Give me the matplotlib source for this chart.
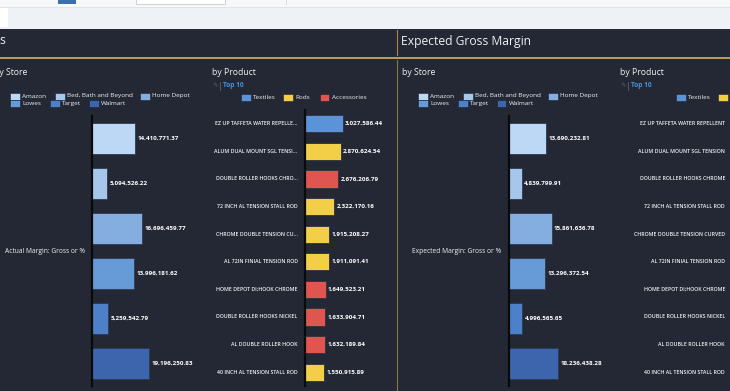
import matplotlib
matplotlib.use("Agg")
import matplotlib.pyplot as plt
from matplotlib.patches import Rectangle
from matplotlib.lines import Line2D

# ---------------- data ----------------
stores = ["Amazon", "Bed, Bath and Beyond", "Home Depot", "Lowes", "Target", "Walmart"]
store_colors = ["#bcd8f5", "#a6c6ec", "#84aee0", "#679bd8", "#4c80c8", "#3c65ae"]
actual_store = [14410771.37, 5094526.22, 16696459.77, 13996181.62, 5259542.79, 19196250.83]
expected_store = [13690232.81, 4839799.91, 15861636.78, 13296372.54, 4996565.65, 18236438.28]

product_labels_left = ["EZ UP TAFFETA WATER REPELLE...", "ALUM DUAL MOUNT SGL TENSI...",
                       "DOUBLE ROLLER HOOKS CHRO...", "72 INCH AL TENSION STALL ROD",
                       "CHROME DOUBLE TENSION CU...", "AL 72IN FINIAL TENSION ROD",
                       "HOME DEPOT DI;HOOK CHROME", "DOUBLE ROLLER HOOKS NICKEL",
                       "AL DOUBLE ROLLER HOOK", "40 INCH AL TENSION STALL ROD"]
product_labels_right = ["EZ UP TAFFETA WATER REPELLENT", "ALUM DUAL MOUNT SGL TENSION",
                        "DOUBLE ROLLER HOOKS CHROME", "72 INCH AL TENSION STALL ROD",
                        "CHROME DOUBLE TENSION CURVED", "AL 72IN FINIAL TENSION ROD",
                        "HOME DEPOT DI;HOOK CHROME", "DOUBLE ROLLER HOOKS NICKEL",
                        "AL DOUBLE ROLLER HOOK", "40 INCH AL TENSION STALL ROD"]
product_cats = ["Textiles", "Rods", "Accessories", "Rods", "Rods", "Rods",
                "Accessories", "Accessories", "Accessories", "Rods"]
actual_product = [3027586.44, 2870624.54, 2676206.79, 2322170.16, 1915208.27,
                  1911091.41, 1649523.21, 1633904.71, 1632189.84, 1550915.89]
categories = ["Textiles", "Rods", "Accessories"]
cat_colors = {"Textiles": "#5b93d8", "Rods": "#f2cf47", "Accessories": "#e05550"}

# ---------------- layout helpers ----------------
W, H = 730, 391
fig = plt.figure(figsize=(7.3, 3.91), dpi=100)
fig.patch.set_facecolor("#eef1f6")
plt.rcParams['font.family'] = ['Open Sans', 'DejaVu Sans']

def fx(x): return x / W
def fy(y): return 1 - y / H

def rect(x0, y0, x1, y1, fc, ec="none", lw=0, z=-2):
    fig.patches.append(Rectangle((fx(x0), fy(y1)), fx(x1) - fx(x0), fy(y0) - fy(y1),
                                 transform=fig.transFigure, facecolor=fc, edgecolor=ec,
                                 linewidth=lw, zorder=z))

def hline(x0, x1, y, c, lw):
    fig.lines.append(Line2D([fx(x0), fx(x1)], [fy(y), fy(y)], transform=fig.transFigure,
                            color=c, linewidth=lw, zorder=-1))

def vline(x, y0, y1, c, lw):
    fig.lines.append(Line2D([fx(x), fx(x)], [fy(y0), fy(y1)], transform=fig.transFigure,
                            color=c, linewidth=lw, zorder=-1))

def txt(x, y, s, size, color="#eef0f3", ha="left", va="center", weight="normal", **kw):
    fig.text(fx(x), fy(y), s, fontsize=size, color=color, ha=ha, va=va, weight=weight,
             zorder=6, **kw)

# ---------------- chrome ----------------
rect(0, 0, W, 6.5, "#f7f8fa")
hline(0, W, 6.5, "#dde1e6", 0.6)
rect(0, 8, 8, 27, "#ffffff")
rect(58, 0, 76, 3.5, "#3a6fb0")
rect(136, -1, 225, 4, "#ffffff", ec="#c8ccd2", lw=0.6)
vline(286, 0, 3.5, "#d0d4da", 0.6)

DARK = "#232834"
rect(0, 29, W, H + 2, DARK)
GOLD = "#d9b35c"
hline(0, W, 57.5, GOLD, 1.2)
vline(396.5, 30, 55, "#a8864a", 0.8)
vline(396.5, 60, H, "#8a7448", 0.8)

txt(-3, 41, "is", 8.7)
txt(401, 41, "Expected Gross Margin", 8.7)

# ---------------- store charts ----------------
def style_axis(ax):
    ax.set_facecolor("none")
    for sp in ["top", "right", "bottom"]:
        ax.spines[sp].set_visible(False)
    ax.spines["left"].set_color("#0a0a0a")
    ax.spines["left"].set_linewidth(1.6)
    ax.set_xticks([]); ax.set_yticks([])
    ax.set_zorder(5)

def store_chart(left_px, scale_px_per_m, values, ylabel, label_right):
    width_px = 100
    ax = fig.add_axes([fx(left_px), fy(386), width_px / W, (386 - 116) / H])
    ax.barh(range(len(stores)), values, height=0.67, color=store_colors,
            edgecolor="#2c3a52", linewidth=0.6)
    ax.set_xlim(0, width_px / scale_px_per_m * 1e6)
    ax.set_ylim(len(stores) - 0.5, -0.5)
    style_axis(ax)
    for i, v in enumerate(values):
        ax.annotate(f"{v:,.2f}", (v, i), xytext=(1.8, 0), textcoords="offset points",
                    ha="left", va="center", fontsize=4.5, color="white", weight="bold",
                    annotation_clip=False)
    txt(label_right, 251.5, ylabel, 4.75, ha="right")

store_chart(92, 2.98, actual_store, "Actual Margin: Gross or %", 85)
store_chart(508.5, 2.72, expected_store, "Expected Margin: Gross or %", 501)

# ---------------- product chart (left panel) ----------------
ax = fig.add_axes([fx(305), fy(386), 80 / W, (386 - 110) / H])
ax.barh(range(len(actual_product)), actual_product, height=0.63,
        color=[cat_colors[c] for c in product_cats], edgecolor="#2b3240", linewidth=0.6)
ax.set_xlim(0, 80 / 12.45 * 1e6)
ax.set_ylim(len(actual_product) - 0.5, -0.5)
style_axis(ax)
for i, v in enumerate(actual_product):
    ax.annotate(f"{v:,.2f}", (v, i), xytext=(1.8, 0), textcoords="offset points",
                ha="left", va="center", fontsize=4.5, color="white", weight="bold",
                annotation_clip=False)

row_y = [110 + (386 - 110) / 10 * (i + 0.5) for i in range(10)]
for i, lab in enumerate(product_labels_left):
    txt(297.5, row_y[i], lab, 3.75, ha="right", weight="semibold")
for i, lab in enumerate(product_labels_right):
    txt(725, row_y[i], lab, 3.75, ha="right", weight="semibold")

# ---------------- headings & legends ----------------
txt(-6, 72.5, "by Store", 6.2)
txt(402, 72.5, "by Store", 6.2)
txt(212, 72.5, "by Product", 6.2)
txt(620, 72.5, "by Product", 6.2)
for bx in (212, 620):
    txt(bx, 85.5, "\u270e", 4.5, color="#59606c", family=["DejaVu Sans"])
    vline(bx + 7.5, 81.5, 89.5, "#59606c", 0.6)
    txt(bx + 11, 85.5, "Top 10", 4.8, color="#4a94e2", weight="bold")

def legend_item(x, y, color, label):
    rect(x, y - 3.5, x + 9.5, y + 3.5, color, ec="#1b2030", lw=0.4, z=1)
    txt(x + 12, y, label, 4.55)

store_leg_left = [(10, 96), (55, 96), (140, 96), (10, 103.5), (50, 103.5), (89, 103.5)]
store_leg_right = [(418, 96), (463, 96), (548, 96), (418, 103.5), (458, 103.5), (497, 103.5)]
for (x, y), s, c in zip(store_leg_left, stores, store_colors):
    legend_item(x, y, c, s)
for (x, y), s, c in zip(store_leg_right, stores, store_colors):
    legend_item(x, y, c, s)

cat_leg_left = [241, 283, 319.5]
cat_leg_right = [676, 718, 754]
for x, c in zip(cat_leg_left, categories):
    legend_item(x, 97.5, cat_colors[c], c)
for x, c in zip(cat_leg_right, categories):
    legend_item(x, 97.5, cat_colors[c], c)

fig.savefig("out.png", dpi=100, facecolor=fig.get_facecolor())
